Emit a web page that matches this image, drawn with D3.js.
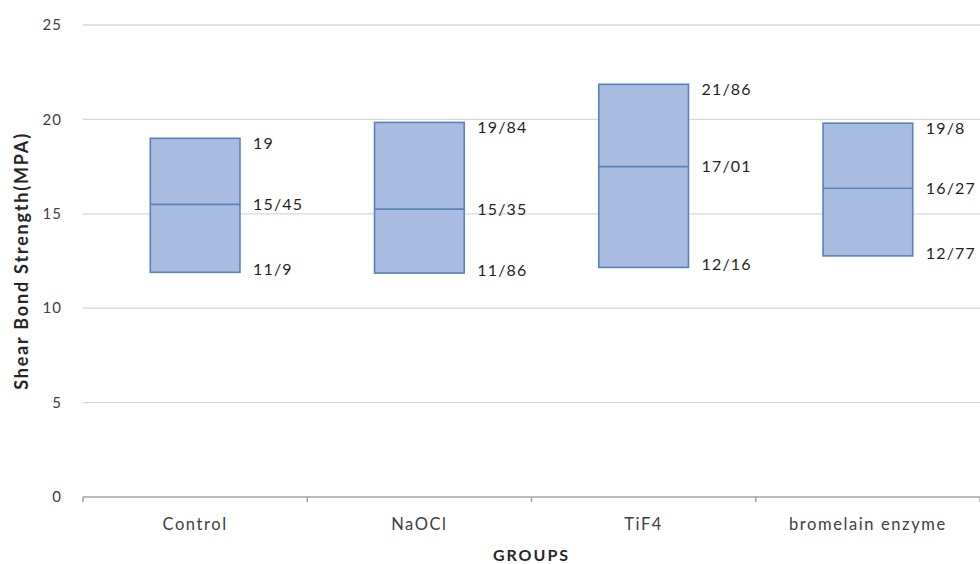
<!DOCTYPE html>
<html>
<head>
<meta charset="utf-8">
<script src="https://cdn.jsdelivr.net/npm/d3@7"></script>
<style>
  body { margin: 0; background: #fff; }
  svg { display: block; font-family: Lato, "Open Sans", sans-serif; }
</style>
</head>
<body>
<div id="chart"></div>
<script>
// data (median lines as drawn; labels as printed)
const groups = ["Control", "NaOCl", "TiF4", "bromelain enzyme"];
const minVals = [11.9, 11.86, 12.16, 12.77];
const medVals = [15.5, 15.25, 17.5, 16.35];
const maxVals = [19, 19.84, 21.86, 19.8];
const minLabels = ["11/9", "11/86", "12/16", "12/77"];
const medLabels = ["15/45", "15/35", "17/01", "16/27"];
const maxLabels = ["19", "19/84", "21/86", "19/8"];
const yTicks = [0, 5, 10, 15, 20, 25];

const width = 980, height = 564;
const margin = { top: 25, right: 0, bottom: 67, left: 83 };

const svg = d3.select("#chart").append("svg")
  .attr("width", width)
  .attr("height", height);

const x = d3.scaleBand()
  .domain(groups)
  .range([margin.left, width - margin.right])
  .paddingInner(0)
  .paddingOuter(0);

const y = d3.scaleLinear()
  .domain([0, 25])
  .range([height - margin.bottom, margin.top]);

// gridlines
svg.append("g")
  .selectAll("line")
  .data(yTicks.filter(d => d > 0))
  .join("line")
  .attr("x1", margin.left)
  .attr("x2", width - margin.right)
  .attr("y1", d => y(d))
  .attr("y2", d => y(d))
  .attr("stroke", "#d9d9d9")
  .attr("stroke-width", 1.3);

// y tick labels
svg.append("g")
  .selectAll("text")
  .data(yTicks)
  .join("text")
  .attr("x", 62)
  .attr("y", d => y(d))
  .attr("dy", "0.35em")
  .attr("text-anchor", "end")
  .attr("fill", "#404040")
  .attr("letter-spacing", "1px")
  .style("font-size", "15px")
  .text(d => d);

// x axis
const xAxis = svg.append("g")
  .attr("transform", `translate(0,${y(0)})`);
xAxis.append("line")
  .attr("x1", margin.left)
  .attr("x2", width - margin.right)
  .attr("stroke", "#a6a6a6")
  .attr("stroke-width", 1.6);
const boundaries = groups.map(g => x(g)).concat([x(groups[groups.length - 1]) + x.bandwidth()]);
xAxis.selectAll(".tick")
  .data(boundaries)
  .join("line")
  .attr("class", "tick")
  .attr("x1", d => d).attr("x2", d => d)
  .attr("y1", 0).attr("y2", 5)
  .attr("stroke", "#a6a6a6")
  .attr("stroke-width", 1.6);
xAxis.selectAll(".cat")
  .data(groups)
  .join("text")
  .attr("class", "cat")
  .attr("x", d => x(d) + x.bandwidth() / 2)
  .attr("y", 33)
  .attr("text-anchor", "middle")
  .attr("fill", "#404040")
  .attr("letter-spacing", "1.6px")
  .style("font-size", "16.5px")
  .text(d => d);

// boxes
const boxW = x.bandwidth() * 0.4;
const boxes = svg.append("g")
  .selectAll("g")
  .data(groups)
  .join("g");

boxes.append("rect")
  .attr("x", d => x(d) + (x.bandwidth() - boxW) / 2)
  .attr("y", (d, i) => y(maxVals[i]))
  .attr("width", boxW)
  .attr("height", (d, i) => y(minVals[i]) - y(maxVals[i]))
  .attr("fill", "#a7bcde")
  .attr("stroke", "#5a82bb")
  .attr("stroke-width", 1.6);

boxes.append("line")
  .attr("x1", d => x(d) + (x.bandwidth() - boxW) / 2)
  .attr("x2", d => x(d) + (x.bandwidth() + boxW) / 2)
  .attr("y1", (d, i) => y(medVals[i]))
  .attr("y2", (d, i) => y(medVals[i]))
  .attr("stroke", "#5a82bb")
  .attr("stroke-width", 1.6);

// data labels to the right of each box
const labelSets = [
  [maxVals, maxLabels, 5],
  [medVals, medLabels, 0],
  [minVals, minLabels, -3]
];
labelSets.forEach(([vals, labels, shift]) => {
  boxes.append("text")
    .attr("x", d => x(d) + (x.bandwidth() + boxW) / 2 + 13)
    .attr("y", (d, i) => y(vals[i]) + shift)
    .attr("dy", "0.35em")
    .attr("fill", "#1f1f1f")
    .attr("letter-spacing", "1.2px")
    .style("font-size", "16px")
    .text((d, i) => labels[i]);
});

// axis titles
svg.append("text")
  .attr("transform", `translate(22,${(y(0) + y(25)) / 2}) rotate(-90)`)
  .attr("dy", "0.35em")
  .attr("text-anchor", "middle")
  .attr("font-weight", "bold")
  .attr("fill", "#262626")
  .attr("letter-spacing", "1.8px")
  .style("font-size", "18px")
  .text("Shear Bond Strength(MPA)");

svg.append("text")
  .attr("x", (margin.left + width - margin.right) / 2)
  .attr("y", 561)
  .attr("text-anchor", "middle")
  .attr("font-weight", "bold")
  .attr("fill", "#262626")
  .attr("letter-spacing", "2px")
  .style("font-size", "16px")
  .text("GROUPS");
</script>
</body>
</html>
